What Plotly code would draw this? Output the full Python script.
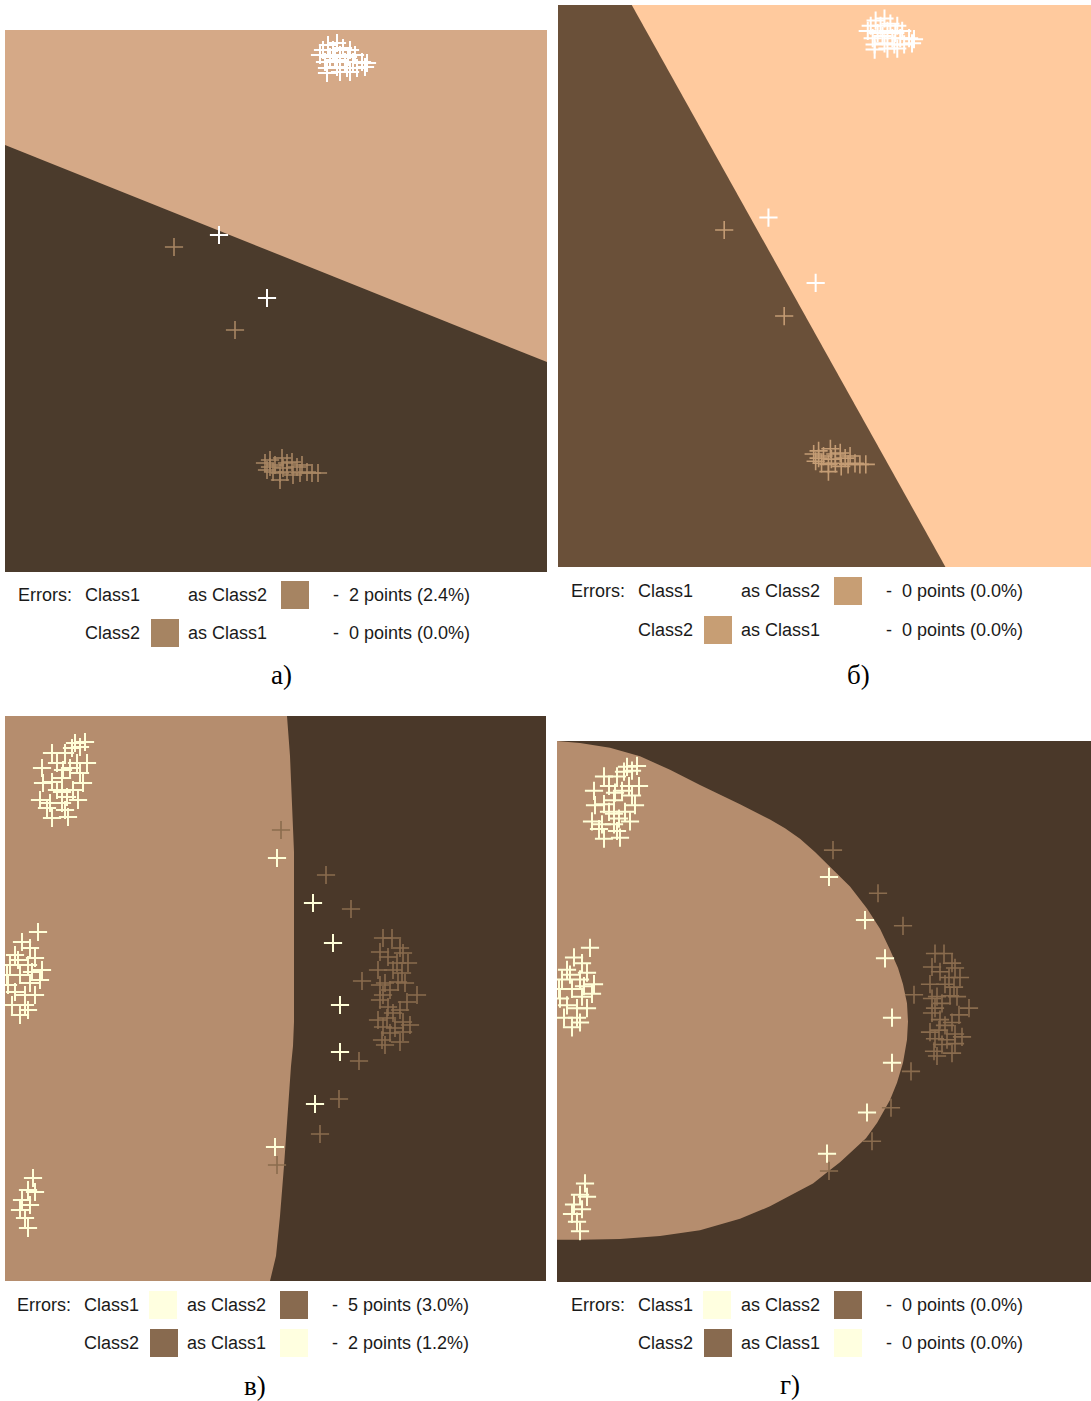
import plotly.graph_objects as go

W, H = 1091, 1401

# ---------------- Dataset 1 (panels а, б) ----------------
c1_ab_x = [323, 332, 318, 328, 338, 345, 315, 325, 335, 343, 350, 320, 330, 340, 348, 357, 362,
           322, 332, 342, 352, 360, 322, 345, 335, 214, 262]
c1_ab_y = [15, 13, 20, 20, 18, 20, 25, 27, 25, 27, 25, 32, 30, 32, 32, 32, 33,
           38, 37, 38, 38, 37, 43, 42, 42, 205, 268]
c2_ab_x = [169, 230, 260, 265, 270, 277, 282, 287, 292, 297, 302, 307, 313, 262, 268, 275, 282,
           288, 295, 275, 265, 278]
c2_ab_y = [217, 300, 433, 430, 435, 428, 433, 432, 437, 435, 442, 443, 443, 440, 442, 443, 442,
           445, 443, 450, 437, 438]
# decision boundaries (linear)
bnd_a_x = [0, 542]
bnd_a_y = [115, 332]
bnd_b_x = [75, 394]
bnd_b_y = [0, 542]

# ---------------- Dataset 2 (panels в, г) ----------------
c1_vg_x = [80, 70, 67, 75, 47, 60, 52, 72, 82, 37, 58, 65, 75, 47, 57, 78, 38, 52, 68, 57, 62, 35, 45,
           57, 73, 42, 60, 63, 47,
           33, 17, 25, 10, 30, 5, 23, 37, 15, 3, 25, 35, 10, 20, 30, 7, 20, 15, 23, 2, 13, 27,
           28, 23, 30, 17, 25, 15, 20, 23,
           272, 308, 328, 335, 335, 310, 270]
c1_vg_y = [26, 27, 32, 31, 37, 37, 47, 47, 47, 52, 54, 52, 57, 66, 62, 67, 67, 74, 74, 76, 81, 84, 87,
           87, 84, 92, 94, 101, 102,
           216, 226, 232, 239, 242, 249, 249, 254, 259, 269, 267, 264, 276, 279, 279, 289, 289, 299, 294,
           259, 244, 256,
           462, 474, 476, 484, 489, 494, 502, 512,
           142, 187, 227, 289, 336, 388, 431]
c2_vg_x = [276, 321, 346, 357, 354, 334, 315, 272,
           378, 387, 375, 395, 383, 398, 392, 403, 373, 388, 397, 380, 375, 393, 400, 385, 378, 412,
           375, 402, 383, 395, 388, 373, 382, 398, 405, 378, 390, 385, 398, 377, 395, 380]
c2_vg_y = [114, 159, 193, 265, 345, 383, 418, 449,
           222, 222, 236, 232, 241, 237, 247, 247, 254, 254, 257, 267, 269, 266, 267, 274, 279, 279,
           284, 286, 291, 294, 297, 304, 302, 306, 309, 311, 312, 317, 316, 324, 326, 329]
# decision boundaries (quadratic)
bnd_v_x = [282, 285, 287, 289, 289, 288, 286, 284, 282, 281, 279, 275, 271, 265]
bnd_v_y = [0, 40, 94, 136, 306, 330, 350, 380, 406, 427, 450, 500, 540, 565]
bnd_g_x = [0, 23, 53, 83, 113, 143, 183, 213, 228, 243, 258, 273, 293, 310, 323, 333, 341, 346, 350,
           351, 350, 346, 340, 333, 320, 309, 296, 283, 273, 256, 238, 213, 183, 143, 103, 63, 23, 0]
bnd_g_y = [0, 2, 7, 16, 30, 46, 66, 82, 91, 102, 116, 131, 152, 175, 196, 218, 237, 254, 274,
           293, 312, 336, 357, 375, 399, 415, 428, 440, 448, 462, 472, 486, 499, 511, 517, 520, 521, 521]

# legend texts
err_a = ["2 points (2.4%)", "0 points (0.0%)"]
err_b = ["0 points (0.0%)", "0 points (0.0%)"]
err_v = ["5 points (3.0%)", "2 points (1.2%)"]
err_g = ["0 points (0.0%)", "0 points (0.0%)"]
panel_labels = ["а)", "б)", "в)", "г)"]

# ---------------- styling ----------------
def px(x):
    return x / W

def py(y):
    return 1 - y / H

panels = {
    "a": dict(ax="x", ay="y", dom=(5, 547, 30, 572), xr=[0, 542], yr=[542, 0],
              bg="#4B3B2C", fg="#D5A987", c1="#FFFFFF", c2="#A88663"),
    "b": dict(ax="x2", ay="y2", dom=(558, 1091, 5, 567), xr=[0, 542], yr=[542, 0],
              bg="#FFCA9E", fg="#6A5039", c1="#FFFFFF", c2="#C49C74"),
    "v": dict(ax="x3", ay="y3", dom=(5, 546, 716, 1281), xr=[0, 541], yr=[565, 0],
              bg="#4A3829", fg="#B58D6E", c1="#FFFFD8", c2="#8A6C4E"),
    "g": dict(ax="x4", ay="y4", dom=(557, 1091, 741, 1282), xr=[0, 534], yr=[565, 0],
              bg="#4A3829", fg="#B58D6E", c1="#FFFFD8", c2="#8A6C4E"),
}

fig = go.Figure()
layout = dict(width=W, height=H, margin=dict(l=0, r=0, t=0, b=0),
              paper_bgcolor="white", plot_bgcolor="rgba(0,0,0,0)",
              showlegend=False, shapes=[], annotations=[])

for i, (key, p) in enumerate(panels.items()):
    sfx = "" if i == 0 else str(i + 1)
    x0, x1, y0, y1 = p["dom"]
    layout["xaxis" + sfx] = dict(domain=[px(x0), px(x1)], range=p["xr"], visible=False,
                                 fixedrange=True, anchor="y" + sfx)
    layout["yaxis" + sfx] = dict(domain=[py(y1), py(y0)], range=p["yr"], visible=False,
                                 fixedrange=True, anchor="x" + sfx)
    layout["shapes"].append(dict(type="rect", xref=f"x{sfx} domain", yref=f"y{sfx} domain",
                                 x0=0, x1=1, y0=0, y1=1, fillcolor=p["bg"],
                                 line=dict(width=0), layer="below"))

xmax_a, ymax_a = 542, 542
# region polygons
poly_a_x = [bnd_a_x[0], bnd_a_x[1], xmax_a, 0]          # а: upper (light) region
poly_a_y = [bnd_a_y[0], bnd_a_y[1], 0, 0]
poly_b_x = [0] + bnd_b_x + [0]                          # б: left (dark) region
poly_b_y = [0] + bnd_b_y + [ymax_a]
poly_v_x = [0] + bnd_v_x + [0]                          # в: left region
poly_v_y = [0] + bnd_v_y + [565]
poly_g_x = bnd_g_x                                      # г: inner region
poly_g_y = bnd_g_y

polys = {"a": (poly_a_x, poly_a_y), "b": (poly_b_x, poly_b_y),
         "v": (poly_v_x, poly_v_y), "g": (poly_g_x, poly_g_y)}
data = {"a": (c1_ab_x, c1_ab_y, c2_ab_x, c2_ab_y), "b": (c1_ab_x, c1_ab_y, c2_ab_x, c2_ab_y),
        "v": (c1_vg_x, c1_vg_y, c2_vg_x, c2_vg_y), "g": (c1_vg_x, c1_vg_y, c2_vg_x, c2_vg_y)}

for key, p in panels.items():
    qx, qy = polys[key]
    fig.add_trace(go.Scatter(x=qx, y=qy, mode="lines", fill="toself", fillcolor=p["fg"],
                             line=dict(width=0, color=p["fg"]), xaxis=p["ax"], yaxis=p["ay"],
                             hoverinfo="skip"))
    x1s, y1s, x2s, y2s = data[key]
    fig.add_trace(go.Scatter(x=x2s, y=y2s, mode="markers", xaxis=p["ax"], yaxis=p["ay"],
                             marker=dict(symbol="cross-thin", size=13,
                                         line=dict(width=1.6, color=p["c2"])),
                             cliponaxis=True, hoverinfo="skip"))
    fig.add_trace(go.Scatter(x=x1s, y=y1s, mode="markers", xaxis=p["ax"], yaxis=p["ay"],
                             marker=dict(symbol="cross-thin", size=13,
                                         line=dict(width=2, color=p["c1"])),
                             cliponaxis=True, hoverinfo="skip"))

# ---------------- legends ----------------
FONT = dict(family="Liberation Sans, Arial, sans-serif", size=18, color="#1a1a1a")

def text(x, y, s):
    layout["annotations"].append(dict(text=s, x=px(x), y=py(y), xref="paper", yref="paper",
                                      xanchor="left", yanchor="middle", showarrow=False,
                                      font=FONT))

def square(x, y, color):
    layout["shapes"].append(dict(type="rect", xref="paper", yref="paper",
                                 x0=px(x), x1=px(x + 28), y0=py(y + 14), y1=py(y - 14),
                                 fillcolor=color, line=dict(width=0)))

def legend(ox, y1, y2, errs, sq):
    text(ox + 11, y1, "Errors:")
    text(ox + 78, y1, "Class1")
    text(ox + 181, y1, "as Class2")
    text(ox + 326, y1, "-")
    text(ox + 342, y1, errs[0])
    text(ox + 78, y2, "Class2")
    text(ox + 181, y2, "as Class1")
    text(ox + 326, y2, "-")
    text(ox + 342, y2, errs[1])
    if sq[0]:
        square(ox + 145, y1, sq[0])
    if sq[1]:
        square(ox + 276, y1, sq[1])
    if sq[2]:
        square(ox + 146, y2, sq[2])
    if sq[3]:
        square(ox + 276, y2, sq[3])

legend(5, 595, 633, err_a, (None, "#A68462", "#A68462", None))
legend(558, 591, 630, err_b, (None, "#C79E74", "#C79E74", None))
legend(4, 1305, 1343, err_v, ("#FFFFE0", "#886A4F", "#886A4F", "#FFFFE0"))
legend(558, 1305, 1343, err_g, ("#FFFFE0", "#886A4F", "#886A4F", "#FFFFE0"))

LFONT = dict(family="Liberation Serif, Times New Roman, serif", size=27, color="#000000")
for s, (x, y) in zip(panel_labels, [(281, 675), (858, 675), (255, 1386), (790, 1385)]):
    layout["annotations"].append(dict(text=s, x=px(x), y=py(y), xref="paper", yref="paper",
                                      xanchor="center", yanchor="middle", showarrow=False,
                                      font=LFONT))

fig.update_layout(**layout)
fig.write_html("out.html", config={"displayModeBar": False},
               post_script="document.body.style.margin='0';")
